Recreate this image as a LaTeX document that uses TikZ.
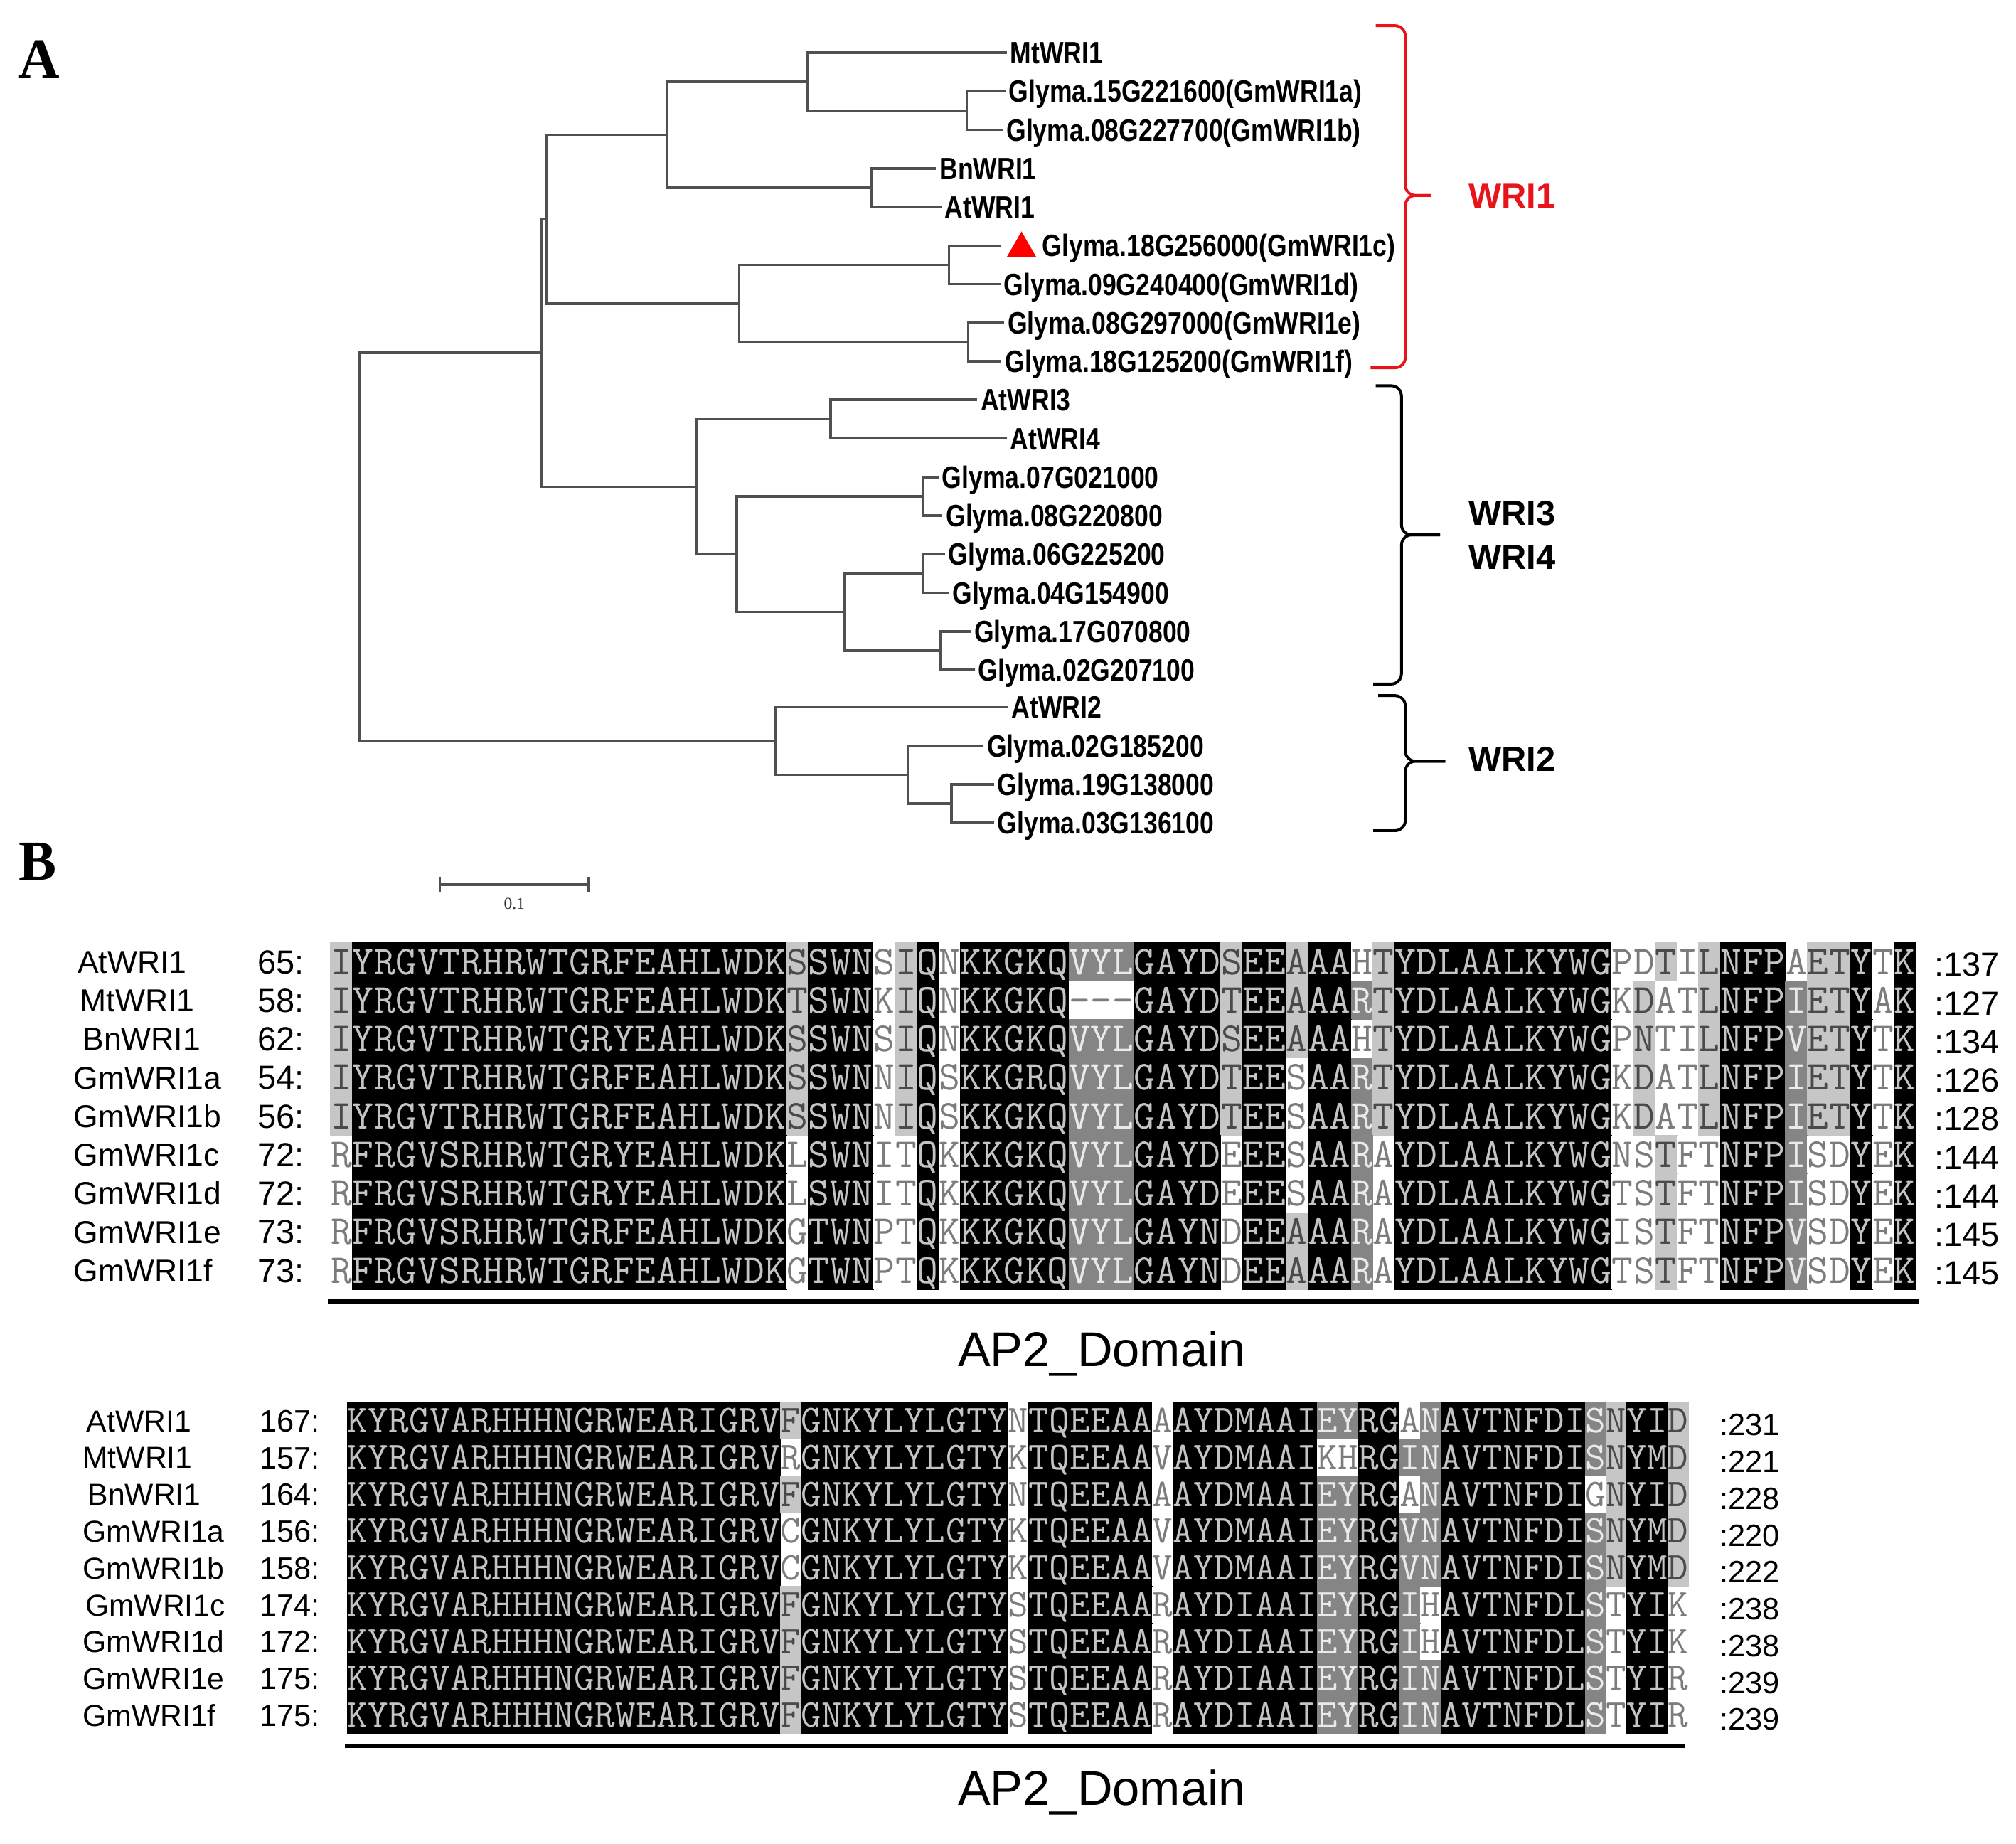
\documentclass[tikz,border=0pt]{standalone}
\usepackage{fontspec}
\setmainfont{Liberation Sans}
\newfontfamily\treefont[FakeStretch=0.82]{Liberation Sans}
\newfontfamily\serifB{Liberation Serif}
\definecolor{treegray}{HTML}{505050}
\definecolor{dgray}{HTML}{858585}
\definecolor{lgray}{HTML}{C6C6C6}
\definecolor{tk}{HTML}{C4C4C4}
\definecolor{td}{HTML}{EAEAEA}
\definecolor{tl}{HTML}{4A4A4A}
\definecolor{tw}{HTML}{7C7C7C}
\definecolor{wred}{HTML}{E8141B}

\def\alf{\ttfamily\fontsize{16}{16}\selectfont}
\def\alth{9.8pt}
\def\K{kkkkkkkkkk}

\tikzset{
 tree/.style={draw=treegray, line width=1pt},
 leaf/.style={anchor=west, inner xsep=1.2pt, inner ysep=0pt, text height=8.6pt, text depth=0pt, font=\treefont\bfseries\fontsize{12}{12}\selectfont},
 grp/.style={anchor=west, inner sep=0pt, text height=9.7pt, text depth=0pt, font=\bfseries\fontsize{13.5}{14}\selectfont},
 brk/.style={line width=1.1pt, rounded corners=4pt},
 panel/.style={anchor=west, inner sep=0pt, font=\serifB\bfseries\fontsize{22}{22}\selectfont},
 nmA/.style={inner sep=0pt, text height=8.8pt, text depth=0pt, font=\fontsize{12.3}{13}\selectfont},
 numA/.style={inner sep=0pt, text height=9.3pt, text depth=0pt, font=\fontsize{13}{14}\selectfont},
 nmB/.style={inner sep=0pt, text height=8.5pt, text depth=0pt, font=\fontsize{11.8}{13}\selectfont},
 numB/.style={inner sep=0pt, text height=8.6pt, text depth=0pt, font=\fontsize{12}{13}\selectfont},
 bgk/.style={fill=black, draw=black, line width=0.2pt},
 bgd/.style={fill=dgray, draw=dgray, line width=0.2pt},
 bgl/.style={fill=lgray, draw=lgray, line width=0.2pt},
 bgw/.style={fill=white},
 fgbase/.style={inner sep=0pt, text height=\alth, text depth=0pt, font=\alf},
 fgk/.style={fgbase, text=tk},
 fgd/.style={fgbase, text=td},
 fgl/.style={fgbase, text=tl},
 fgw/.style={fgbase, text=tw},
 dom/.style={inner sep=0pt, font=\fontsize{19}{20}\selectfont},
}

\newcommand\alcell[8]{%
  \fill[bg#7] ({#2+(#6-1)*#4},{#3-#5/2}) rectangle ({#2+#6*#4},{#3+#5/2});
  \node[fg#7] (#1c#6) at ({#2+(#6-0.5)*#4},#3) {#8};
}

\ExplSyntaxOn
\tl_new:N \l_rs_seq_tl
\tl_new:N \l_rs_sh_tl
\NewDocumentCommand \alrow { m m m m m m m }
  {
    \tl_set:Nx \l_rs_seq_tl { #6 }
    \tl_remove_all:Nn \l_rs_seq_tl { ~ }
    \tl_set:Nx \l_rs_sh_tl { #7 }
    \tl_remove_all:Nn \l_rs_sh_tl { ~ }
    \int_step_inline:nn { \tl_count:N \l_rs_seq_tl }
      {
        \use:e
          {
            \exp_not:N \alcell {#1} {#2} {#3} {#4} {#5} {##1}
              { \tl_item:Nn \l_rs_sh_tl {##1} }
              { \tl_item:Nn \l_rs_seq_tl {##1} }
          }
      }
  }
\ExplSyntaxOff

\begin{document}
\begin{tikzpicture}[x=0.5pt,y=-0.5pt]
\useasboundingbox (0,0) rectangle (1568,1434);
\fill[white] (0,0) rectangle (1568,1434);

% panel labels
\node[panel] (pA) at (14,46) {A};
\node[panel] (pB) at (14,670) {B};

% ---------- tree leaves ----------
\node[leaf] (t1) at (783,41) {MtWRI1};
\node[leaf] (t2) at (782,71) {Glyma.15G221600(GmWRI1a)};
\node[leaf] (t3) at (780,101) {Glyma.08G227700(GmWRI1b)};
\node[leaf] (t4) at (728,131) {BnWRI1};
\node[leaf] (t5) at (732,161) {AtWRI1};
\coordinate (e6) at (778,191);
\fill[red] (783,200) -- (806,200) -- (794.5,180) -- cycle;
\node[leaf] (t6) at (808,191) {Glyma.18G256000(GmWRI1c)};
\node[leaf] (t7) at (778,221) {Glyma.09G240400(GmWRI1d)};
\node[leaf] (t8) at (781,251) {Glyma.08G297000(GmWRI1e)};
\node[leaf] (t9) at (779,281) {Glyma.18G125200(GmWRI1f)};
\node[leaf] (t10) at (760,311) {AtWRI3};
\node[leaf] (t11) at (783,341) {AtWRI4};
\node[leaf] (t12) at (730,371) {Glyma.07G021000};
\node[leaf] (t13) at (733,401) {Glyma.08G220800};
\node[leaf] (t14) at (735,431) {Glyma.06G225200};
\node[leaf] (t15) at (738,461) {Glyma.04G154900};
\node[leaf] (t16) at (755,491) {Glyma.17G070800};
\node[leaf] (t17) at (758,521) {Glyma.02G207100};
\node[leaf] (t18) at (784,550) {AtWRI2};
\node[leaf] (t19) at (765,580) {Glyma.02G185200};
\node[leaf] (t20) at (773,610) {Glyma.19G138000};
\node[leaf] (t21) at (773,640) {Glyma.03G136100};

% ---------- internal nodes ----------
\coordinate (n23) at (752,86);
\coordinate (nA) at (628,63.5);
\coordinate (nBA) at (678,146);
\coordinate (nAB) at (519,104.75);
\coordinate (ncd) at (738,206);
\coordinate (nef) at (753,266);
\coordinate (nCD) at (575,236);
\coordinate (nW1) at (425,170.4);
\coordinate (n34) at (646,326);
\coordinate (n0708) at (718,386);
\coordinate (n0604) at (718,446);
\coordinate (n1702) at (731,506);
\coordinate (nG2) at (657,476);
\coordinate (nG1) at (573,431);
\coordinate (nW34) at (542,378.5);
\coordinate (nW134) at (421,274.4);
\coordinate (n1903) at (740,625);
\coordinate (n02) at (706,602.5);
\coordinate (nW2) at (603,576);
\coordinate (root) at (280,425.2);

\draw[tree] (n23) |- (t2.west);  \draw[tree] (n23) |- (t3.west);
\draw[tree] (nA) |- (t1.west);   \draw[tree] (nA) |- (n23);
\draw[tree] (nBA) |- (t4.west);  \draw[tree] (nBA) |- (t5.west);
\draw[tree] (nAB) |- (nA);       \draw[tree] (nAB) |- (nBA);
\draw[tree] (ncd) |- (e6);       \draw[tree] (ncd) |- (t7.west);
\draw[tree] (nef) |- (t8.west);  \draw[tree] (nef) |- (t9.west);
\draw[tree] (nCD) |- (ncd);      \draw[tree] (nCD) |- (nef);
\draw[tree] (nW1) |- (nAB);      \draw[tree] (nW1) |- (nCD);
\draw[tree] (n34) |- (t10.west); \draw[tree] (n34) |- (t11.west);
\draw[tree] (n0708) |- (t12.west); \draw[tree] (n0708) |- (t13.west);
\draw[tree] (n0604) |- (t14.west); \draw[tree] (n0604) |- (t15.west);
\draw[tree] (n1702) |- (t16.west); \draw[tree] (n1702) |- (t17.west);
\draw[tree] (nG2) |- (n0604);    \draw[tree] (nG2) |- (n1702);
\draw[tree] (nG1) |- (n0708);    \draw[tree] (nG1) |- (nG2);
\draw[tree] (nW34) |- (n34);     \draw[tree] (nW34) |- (nG1);
\draw[tree] (nW134) |- (nW1);    \draw[tree] (nW134) |- (nW34);
\draw[tree] (n1903) |- (t20.west); \draw[tree] (n1903) |- (t21.west);
\draw[tree] (n02) |- (t19.west); \draw[tree] (n02) |- (n1903);
\draw[tree] (nW2) |- (t18.west); \draw[tree] (nW2) |- (n02);
\draw[tree] (root) |- (nW134);   \draw[tree] (root) |- (nW2);

% scale bar
\coordinate (sb1) at (342,688);
\coordinate (sb2) at (458,688);
\draw[tree] (sb1) -- (sb2);
\draw[tree] (342,682) -- (342,694);
\draw[tree] (458,682) -- (458,694);
\node[inner sep=0pt, font=\serifB\fontsize{6.5}{7}\selectfont, text=black!80] (sbl) at (400,703) {0.1};

% brackets
\draw[brk, wred] (1070,20) -- (1093,20) -- (1093,152) -- (1113,152);
\draw[brk, wred] (1113,152) -- (1093,152) -- (1093,286) -- (1066,286);
\draw[brk] (1070,300) -- (1090,300) -- (1090,416) -- (1120,416);
\draw[brk] (1120,416) -- (1090,416) -- (1090,532) -- (1068,532);
\draw[brk] (1072,541) -- (1093,541) -- (1093,592) -- (1124,592);
\draw[brk] (1124,592) -- (1093,592) -- (1093,646) -- (1068,646);
\node[grp, text=wred] (g1) at (1142,152) {WRI1};
\node[grp] (g3) at (1142,399) {WRI3};
\node[grp] (g4) at (1142,433) {WRI4};
\node[grp] (g2) at (1142,590) {WRI2};

% ---------- alignment block 1 ----------
\alrow{a1}{257}{748}{16.89}{30}{IYRGVTRHRW TGRFEAHLWD KSSWNSIQNK KGKQVYLGAY DSEEAAAHTY DLAALKYWGP DTILNFPAET YTK}
 {lkkkkkkkkk \K klkkkwlkwk kkkkdddkkk klkklkkwlk kkkkkkkkkw wlwlkkkwll kwk}
\alrow{a2}{257}{778}{16.89}{30}{IYRGVTRHRW TGRFEAHLWD KTSWNKIQNK KGKQ---GAY DTEEAAARTY DLAALKYWGK DATLNFPIET YAK}
 {lkkkkkkkkk \K klkkkwlkwk kkkkwwwkkk klkklkkdlk kkkkkkkkkw lwwlkkkdll kwk}
\alrow{a3}{257}{808}{16.89}{30}{IYRGVTRHRW TGRYEAHLWD KSSWNSIQNK KGKQVYLGAY DSEEAAAHTY DLAALKYWGP NTILNFPVET YTK}
 {lkkkkkkkkk \K klkkkwlkwk kkkkdddkkk klkklkkwlk kkkkkkkkkw lwwlkkkdll kwk}
\alrow{a4}{257}{838}{16.89}{30}{IYRGVTRHRW TGRFEAHLWD KSSWNNIQSK KGRQVYLGAY DTEESAARTY DLAALKYWGK DATLNFPIET YTK}
 {lkkkkkkkkk \K klkkkwlkwk kkkkdddkkk klkkwkkdlk kkkkkkkkkw lwwlkkkdll kwk}
\alrow{a5}{257}{868}{16.89}{30}{IYRGVTRHRW TGRFEAHLWD KSSWNNIQSK KGKQVYLGAY DTEESAARTY DLAALKYWGK DATLNFPIET YTK}
 {lkkkkkkkkk \K klkkkwlkwk kkkkdddkkk klkkwkkdlk kkkkkkkkkw lwwlkkkdll kwk}
\alrow{a6}{257}{898}{16.89}{30}{RFRGVSRHRW TGRYEAHLWD KLSWNITQKK KGKQVYLGAY DEEESAARAY DLAALKYWGN STFTNFPISD YEK}
 {wkkkkkkkkk \K kwkkkwwkwk kkkkdddkkk kwkkwkkdwk kkkkkkkkkw wlwwkkkdww kwk}
\alrow{a7}{257}{928}{16.89}{30}{RFRGVSRHRW TGRYEAHLWD KLSWNITQKK KGKQVYLGAY DEEESAARAY DLAALKYWGT STFTNFPISD YEK}
 {wkkkkkkkkk \K kwkkkwwkwk kkkkdddkkk kwkkwkkdwk kkkkkkkkkw wlwwkkkdww kwk}
\alrow{a8}{257}{958}{16.89}{30}{RFRGVSRHRW TGRFEAHLWD KGTWNPTQKK KGKQVYLGAY NDEEAAARAY DLAALKYWGI STFTNFPVSD YEK}
 {wkkkkkkkkk \K kwkkkwwkwk kkkkdddkkk kwkklkkdwk kkkkkkkkkw wlwwkkkdww kwk}
\alrow{a9}{257}{988}{16.89}{30}{RFRGVSRHRW TGRFEAHLWD KGTWNPTQKK KGKQVYLGAY NDEEAAARAY DLAALKYWGT STFTNFPVSD YEK}
 {wkkkkkkkkk \K kwkkkwwkwk kkkkdddkkk kwkklkkdwk kkkkkkkkkw wlwwkkkdww kwk}

% names block 1
\node[nmA, anchor=west] (na1) at (60,748) {AtWRI1};
\node[nmA, anchor=west] (na2) at (62,778) {MtWRI1};
\node[nmA, anchor=west] (na3) at (64,808) {BnWRI1};
\node[nmA, anchor=west] (na4) at (57,838) {GmWRI1a};
\node[nmA, anchor=west] (na5) at (57,868) {GmWRI1b};
\node[nmA, anchor=west] (na6) at (57,898) {GmWRI1c};
\node[nmA, anchor=west] (na7) at (57,928) {GmWRI1d};
\node[nmA, anchor=west] (na8) at (57,958) {GmWRI1e};
\node[nmA, anchor=west] (na9) at (57,988) {GmWRI1f};
\node[numA, anchor=east] (sa1) at (237,748) {65:};
\node[numA, anchor=east] (sa2) at (237,778) {58:};
\node[numA, anchor=east] (sa3) at (237,808) {62:};
\node[numA, anchor=east] (sa4) at (237,838) {54:};
\node[numA, anchor=east] (sa5) at (237,868) {56:};
\node[numA, anchor=east] (sa6) at (237,898) {72:};
\node[numA, anchor=east] (sa7) at (237,928) {72:};
\node[numA, anchor=east] (sa8) at (237,958) {73:};
\node[numA, anchor=east] (sa9) at (237,988) {73:};
\node[numA, anchor=west] (ea1) at (1504,750) {:137};
\node[numA, anchor=west] (ea2) at (1504,780) {:127};
\node[numA, anchor=west] (ea3) at (1504,810) {:134};
\node[numA, anchor=west] (ea4) at (1504,840) {:126};
\node[numA, anchor=west] (ea5) at (1504,870) {:128};
\node[numA, anchor=west] (ea6) at (1504,900) {:144};
\node[numA, anchor=west] (ea7) at (1504,930) {:144};
\node[numA, anchor=west] (ea8) at (1504,960) {:145};
\node[numA, anchor=west] (ea9) at (1504,990) {:145};
\coordinate (u1a) at (255,1012);
\coordinate (u1b) at (1493,1012);
\draw[line width=1.6pt] (u1a) -- (u1b);
\node[dom] (d1) at (857,1053) {AP2\_Domain};

% ---------- alignment block 2 ----------
\def\alf{\ttfamily\fontsize{15.3}{15.3}\selectfont}
\def\alth{9.3pt}
\alrow{b1}{270}{1105}{16.05}{28.62}{KYRGVARHHH NGRWEARIGR VFGNKYLYLG TYNTQEEAAA AYDMAAIEYR GANAVTNFDI SNYID}
 {\K \K klkkkkkkkk kkwkkkkkkw kkkkkkkddk kwdkkkkkkk dlkkl}
\alrow{b2}{270}{1133.62}{16.05}{28.62}{KYRGVARHHH NGRWEARIGR VRGNKYLYLG TYKTQEEAAV AYDMAAIKHR GINAVTNFDI SNYMD}
 {\K \K kwkkkkkkkk kkwkkkkkkw kkkkkkkwwk kddkkkkkkk dlkkl}
\alrow{b3}{270}{1162.24}{16.05}{28.62}{KYRGVARHHH NGRWEARIGR VFGNKYLYLG TYNTQEEAAA AYDMAAIEYR GANAVTNFDI GNYID}
 {\K \K klkkkkkkkk kkwkkkkkkw kkkkkkkddk kwdkkkkkkk wlkkl}
\alrow{b4}{270}{1190.86}{16.05}{28.62}{KYRGVARHHH NGRWEARIGR VCGNKYLYLG TYKTQEEAAV AYDMAAIEYR GVNAVTNFDI SNYMD}
 {\K \K kwkkkkkkkk kkwkkkkkkw kkkkkkkddk kddkkkkkkk dlkkl}
\alrow{b5}{270}{1219.48}{16.05}{28.62}{KYRGVARHHH NGRWEARIGR VCGNKYLYLG TYKTQEEAAV AYDMAAIEYR GVNAVTNFDI SNYMD}
 {\K \K kwkkkkkkkk kkwkkkkkkw kkkkkkkddk kddkkkkkkk dlkkl}
\alrow{b6}{270}{1248.10}{16.05}{28.62}{KYRGVARHHH NGRWEARIGR VFGNKYLYLG TYSTQEEAAR AYDIAAIEYR GIHAVTNFDL STYIK}
 {\K \K klkkkkkkkk kkwkkkkkkw kkkkkkkddk kdwkkkkkkk dwkkw}
\alrow{b7}{270}{1276.72}{16.05}{28.62}{KYRGVARHHH NGRWEARIGR VFGNKYLYLG TYSTQEEAAR AYDIAAIEYR GIHAVTNFDL STYIK}
 {\K \K klkkkkkkkk kkwkkkkkkw kkkkkkkddk kdwkkkkkkk dwkkw}
\alrow{b8}{270}{1305.34}{16.05}{28.62}{KYRGVARHHH NGRWEARIGR VFGNKYLYLG TYSTQEEAAR AYDIAAIEYR GINAVTNFDL STYIR}
 {\K \K klkkkkkkkk kkwkkkkkkw kkkkkkkddk kddkkkkkkk dwkkw}
\alrow{b9}{270}{1333.96}{16.05}{28.62}{KYRGVARHHH NGRWEARIGR VFGNKYLYLG TYSTQEEAAR AYDIAAIEYR GINAVTNFDL STYIR}
 {\K \K klkkkkkkkk kkwkkkkkkw kkkkkkkddk kddkkkkkkk dwkkw}

% names block 2
\node[nmB, anchor=west] (nb1) at (67,1105) {AtWRI1};
\node[nmB, anchor=west] (nb2) at (64,1133.6) {MtWRI1};
\node[nmB, anchor=west] (nb3) at (68,1162.2) {BnWRI1};
\node[nmB, anchor=west] (nb4) at (64,1190.9) {GmWRI1a};
\node[nmB, anchor=west] (nb5) at (64,1219.5) {GmWRI1b};
\node[nmB, anchor=west] (nb6) at (66,1248.1) {GmWRI1c};
\node[nmB, anchor=west] (nb7) at (64,1276.7) {GmWRI1d};
\node[nmB, anchor=west] (nb8) at (64,1305.3) {GmWRI1e};
\node[nmB, anchor=west] (nb9) at (64,1334) {GmWRI1f};
\node[numB, anchor=east] (sb1n) at (249,1105) {167:};
\node[numB, anchor=east] (sb2n) at (249,1133.6) {157:};
\node[numB, anchor=east] (sb3n) at (249,1162.2) {164:};
\node[numB, anchor=east] (sb4n) at (249,1190.9) {156:};
\node[numB, anchor=east] (sb5n) at (249,1219.5) {158:};
\node[numB, anchor=east] (sb6n) at (249,1248.1) {174:};
\node[numB, anchor=east] (sb7n) at (249,1276.7) {172:};
\node[numB, anchor=east] (sb8n) at (249,1305.3) {175:};
\node[numB, anchor=east] (sb9n) at (249,1334) {175:};
\node[numB, anchor=west] (eb1) at (1337,1108) {:231};
\node[numB, anchor=west] (eb2) at (1337,1136.6) {:221};
\node[numB, anchor=west] (eb3) at (1337,1165.2) {:228};
\node[numB, anchor=west] (eb4) at (1337,1193.9) {:220};
\node[numB, anchor=west] (eb5) at (1337,1222.5) {:222};
\node[numB, anchor=west] (eb6) at (1337,1251.1) {:238};
\node[numB, anchor=west] (eb7) at (1337,1279.7) {:238};
\node[numB, anchor=west] (eb8) at (1337,1308.3) {:239};
\node[numB, anchor=west] (eb9) at (1337,1337) {:239};
\coordinate (u2a) at (268,1358);
\coordinate (u2b) at (1310,1358);
\draw[line width=1.6pt] (u2a) -- (u2b);
\node[dom] (d2) at (857,1394) {AP2\_Domain};
\end{tikzpicture}
\end{document}
